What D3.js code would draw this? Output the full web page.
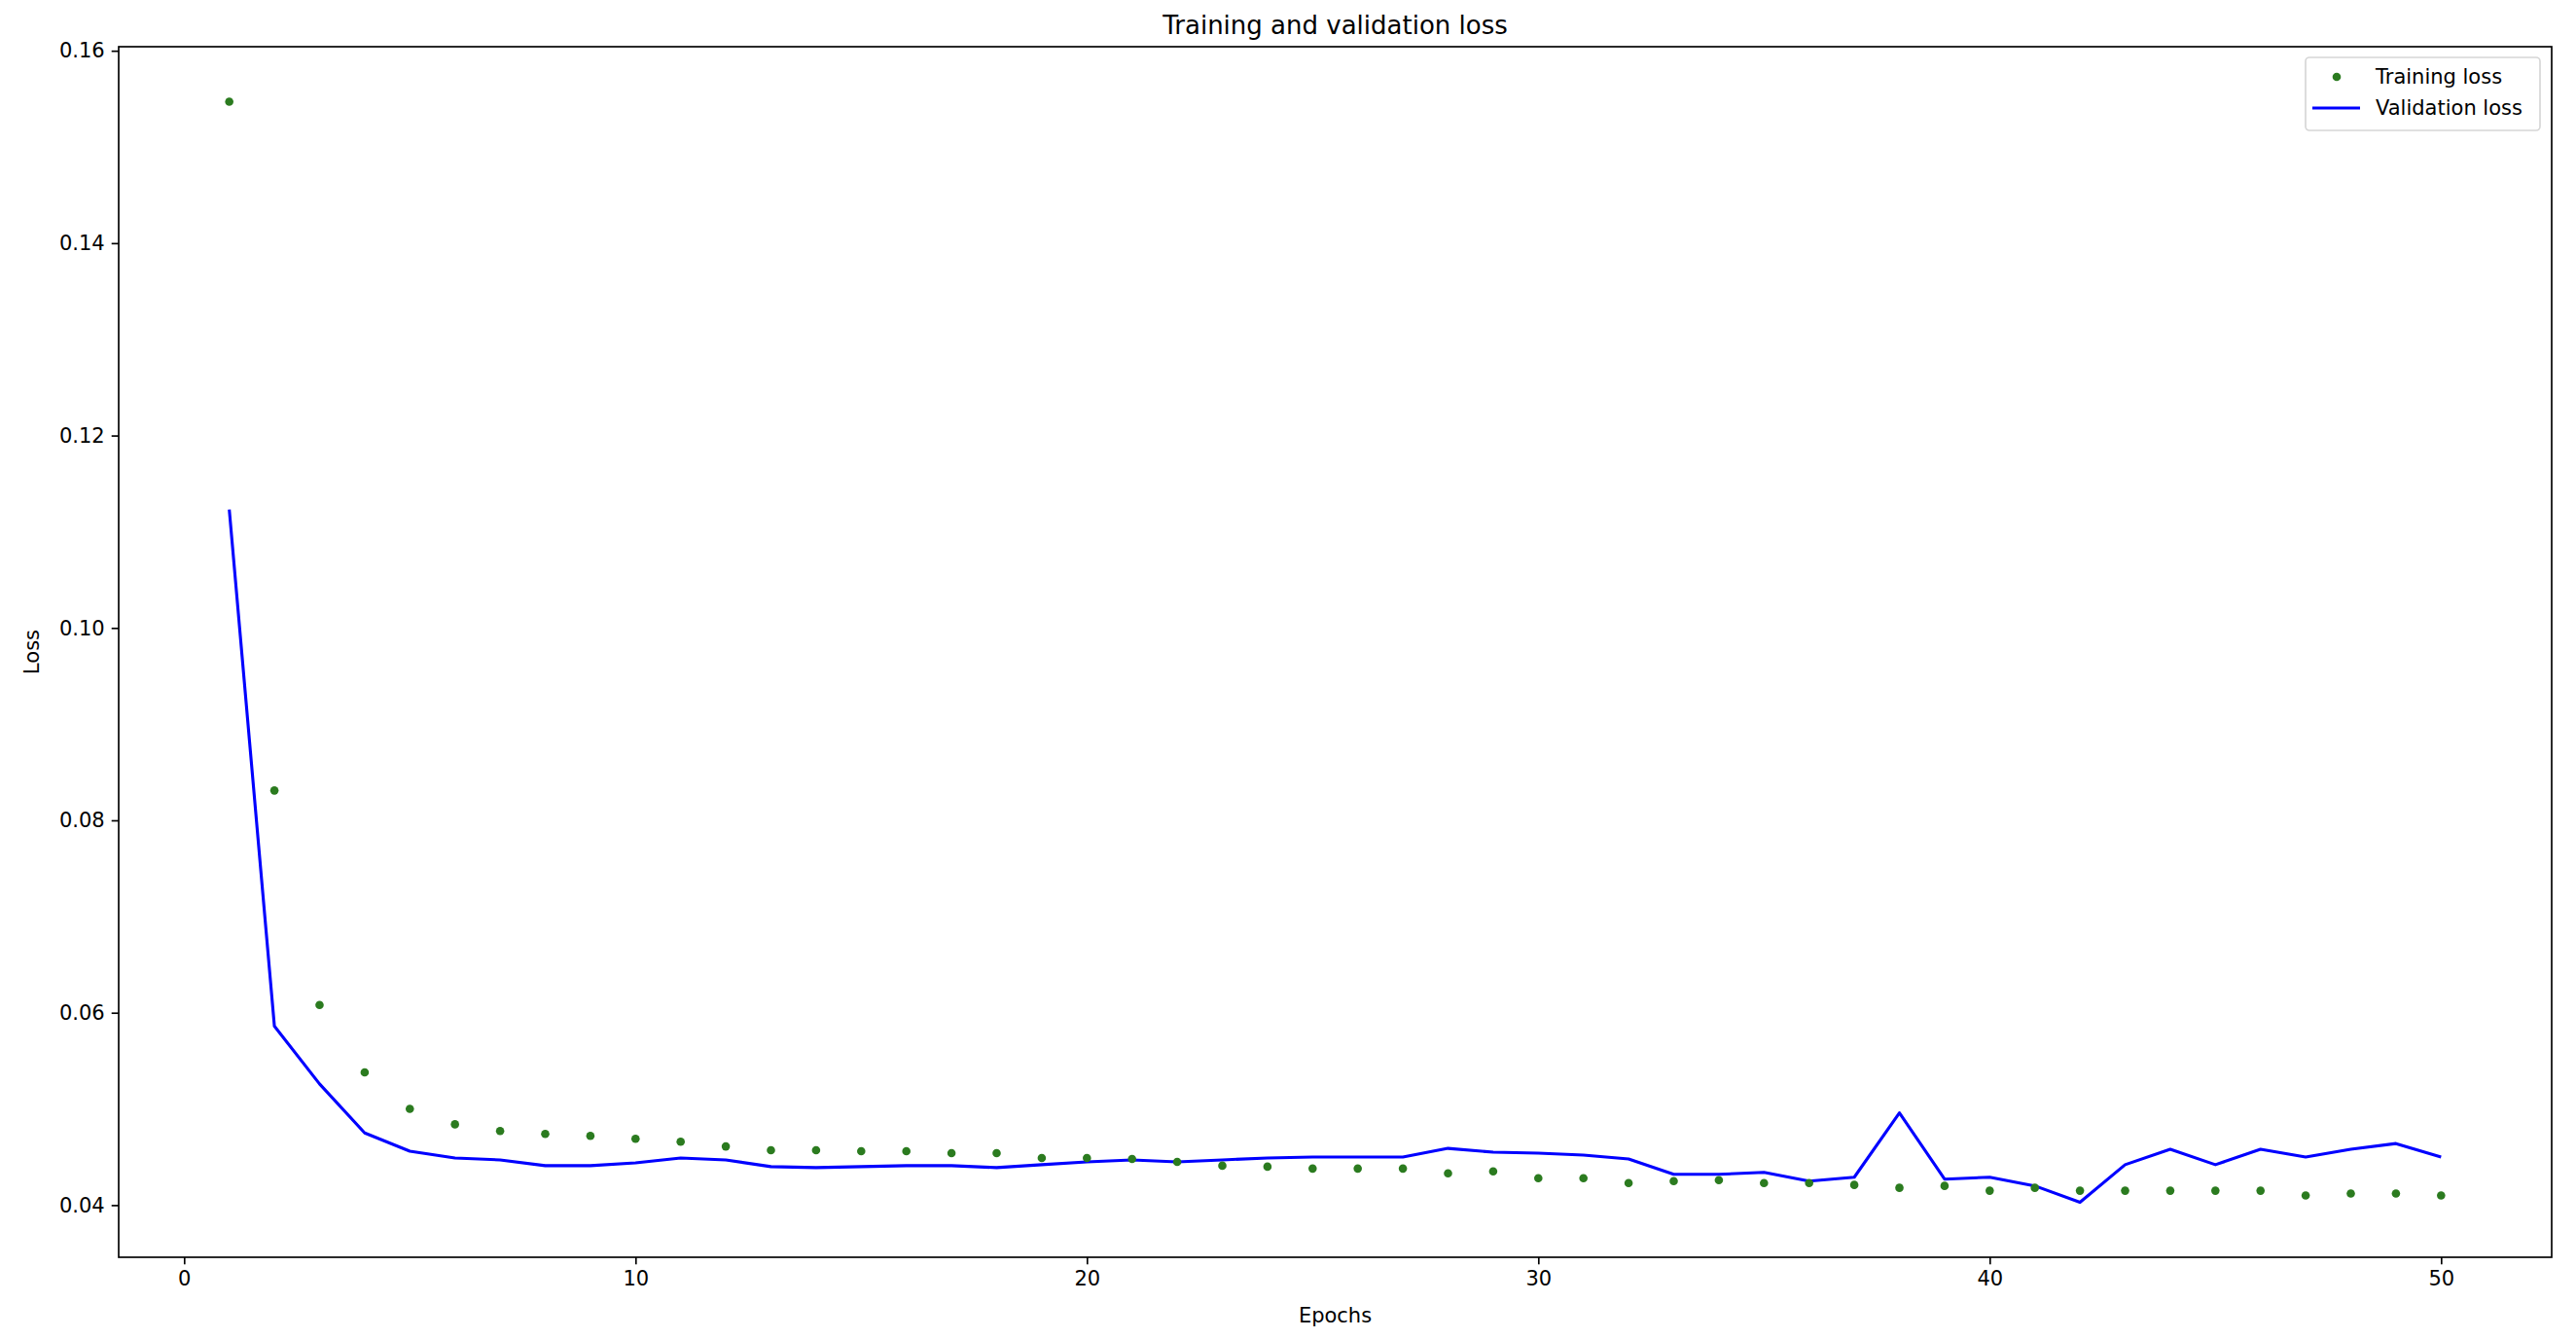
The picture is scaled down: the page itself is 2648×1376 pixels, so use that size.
<!DOCTYPE html>
<html>
<head>
  <script src="https://d3js.org/d3.v7.min.js"></script>
  <style>
    body { margin: 0; background: #fff; }
    text { font-family: "DejaVu Sans", sans-serif; fill: #000; }
  </style>
</head>
<body>
  <div id="chart_div"></div>

  <script>
    // Data
    var epochs = [1, 2, 3, 4, 5, 6, 7, 8, 9, 10, 11, 12, 13, 14, 15, 16, 17, 18, 19, 20,
      21, 22, 23, 24, 25, 26, 27, 28, 29, 30, 31, 32, 33, 34, 35, 36, 37, 38, 39, 40,
      41, 42, 43, 44, 45, 46, 47, 48, 49, 50];

    var trainingLoss = [0.1547, 0.0831, 0.0608, 0.0538, 0.0500, 0.0484, 0.0477, 0.0474, 0.0472, 0.0469,
      0.0466, 0.0461, 0.0457, 0.0457, 0.0456, 0.0456, 0.0454, 0.0454, 0.0449, 0.0449,
      0.0448, 0.0445, 0.0441, 0.0440, 0.0438, 0.0438, 0.0438, 0.0433, 0.0435, 0.0428,
      0.0428, 0.0423, 0.0425, 0.0426, 0.0423, 0.0423, 0.0421, 0.0418, 0.0420, 0.0415,
      0.0418, 0.0415, 0.0415, 0.0415, 0.0415, 0.0415, 0.0410, 0.0412, 0.0412, 0.0410];

    var validationLoss = [0.1123, 0.0586, 0.0526, 0.0475, 0.0456, 0.0449, 0.0447, 0.0441, 0.0441, 0.0444,
      0.0449, 0.0447, 0.0440, 0.0439, 0.0440, 0.0441, 0.0441, 0.0439, 0.0442, 0.0445,
      0.0447, 0.0445, 0.0447, 0.0449, 0.0450, 0.0450, 0.0450, 0.0459, 0.0455, 0.0454,
      0.0452, 0.0448, 0.0432, 0.0432, 0.0434, 0.0425, 0.0429, 0.0496, 0.0427, 0.0429,
      0.0420, 0.0403, 0.0442, 0.0458, 0.0442, 0.0458, 0.0450, 0.0458, 0.0464, 0.0450];

    var xTicks = [0, 10, 20, 30, 40, 50];
    var yTicks = [0.04, 0.06, 0.08, 0.10, 0.12, 0.14, 0.16];

    var seriesNames = ["Training loss", "Validation loss"];

    // Figure / axes box (pixels)
    var W = 2648, H = 1376;
    var margin = { top: 48, right: 25, bottom: 84, left: 122 };
    var width = W - margin.left - margin.right;
    var height = H - margin.top - margin.bottom;

    var dotColor = "#2b7b1f";
    var lineColor = "#0000ff";

    var svg = d3.select("#chart_div")
      .append("svg")
      .attr("width", W)
      .attr("height", H);

    var g = svg.append("g")
      .attr("transform", "translate(" + margin.left + "," + margin.top + ")");

    // matplotlib style 5% padding around the data
    var xPad = (d3.max(epochs) - d3.min(epochs)) * 0.05;
    var allY = trainingLoss.concat(validationLoss);
    var yPad = (d3.max(allY) - d3.min(allY)) * 0.05;

    var x = d3.scaleLinear()
      .domain([d3.min(epochs) - xPad, d3.max(epochs) + xPad])
      .range([0, width]);

    var y = d3.scaleLinear()
      .domain([d3.min(allY) - yPad, d3.max(allY) + yPad])
      .range([height, 0]);

    // validation line
    var line = d3.line()
      .x(function(d, i) { return x(epochs[i]); })
      .y(function(d) { return y(d); });

    g.append("path")
      .datum(validationLoss)
      .attr("fill", "none")
      .attr("stroke", lineColor)
      .attr("stroke-width", 3.1)
      .attr("stroke-linejoin", "round")
      .attr("d", line);

    // training dots
    g.selectAll(".dot")
      .data(trainingLoss)
      .enter()
      .append("circle")
      .attr("class", "dot")
      .attr("cx", function(d, i) { return x(epochs[i]); })
      .attr("cy", function(d) { return y(d); })
      .attr("r", 4.3)
      .attr("fill", dotColor);

    // axes
    var xAxis = g.append("g")
      .attr("transform", "translate(0," + height + ")")
      .call(d3.axisBottom(x).tickValues(xTicks).tickSize(7.3).tickPadding(7).tickFormat(d3.format("d")));

    var yAxis = g.append("g")
      .call(d3.axisLeft(y).tickValues(yTicks).tickSize(7.3).tickPadding(7).tickFormat(d3.format(".2f")));

    [xAxis, yAxis].forEach(function(a) {
      a.select(".domain").remove();
      a.selectAll("line").attr("stroke", "#000").attr("stroke-width", 1.67);
      a.selectAll("text").style("font-size", "21px").style("font-family", "DejaVu Sans").attr("fill", "#000");
    });

    // frame
    g.append("rect")
      .attr("x", 0)
      .attr("y", 0)
      .attr("width", width)
      .attr("height", height)
      .attr("fill", "none")
      .attr("stroke", "#000")
      .attr("stroke-width", 1.67);

    // title and axis labels
    svg.append("text")
      .attr("x", margin.left + width / 2)
      .attr("y", margin.top - 13)
      .style("text-anchor", "middle")
      .style("font-size", "26px")
      .text("Training and validation loss");

    svg.append("text")
      .attr("x", margin.left + width / 2)
      .attr("y", H - 17)
      .style("text-anchor", "middle")
      .style("font-size", "21px")
      .text("Epochs");

    svg.append("text")
      .attr("transform", "translate(40," + (margin.top + height / 2) + ") rotate(-90)")
      .style("text-anchor", "middle")
      .style("font-size", "21px")
      .text("Loss");

    // legend
    var legend = svg.append("g")
      .attr("transform", "translate(" + (margin.left + width - 253) + "," + (margin.top + 11) + ")");

    legend.append("rect")
      .attr("x", 0)
      .attr("y", 0)
      .attr("width", 241)
      .attr("height", 75)
      .attr("rx", 4)
      .attr("fill", "#fff")
      .attr("fill-opacity", 0.8)
      .attr("stroke", "#d6d6d6")
      .attr("stroke-width", 1.67);

    legend.append("circle")
      .attr("cx", 32)
      .attr("cy", 20)
      .attr("r", 4.3)
      .attr("fill", dotColor);

    legend.append("line")
      .attr("x1", 7)
      .attr("x2", 56)
      .attr("y1", 52)
      .attr("y2", 52)
      .attr("stroke", lineColor)
      .attr("stroke-width", 3.1);

    legend.selectAll(".legendLabel")
      .data(seriesNames)
      .enter()
      .append("text")
      .attr("class", "legendLabel")
      .attr("x", 72)
      .attr("y", function(d, i) { return 27 + i * 32; })
      .style("font-size", "21px")
      .text(function(d) { return d; });
  </script>
</body>
</html>
